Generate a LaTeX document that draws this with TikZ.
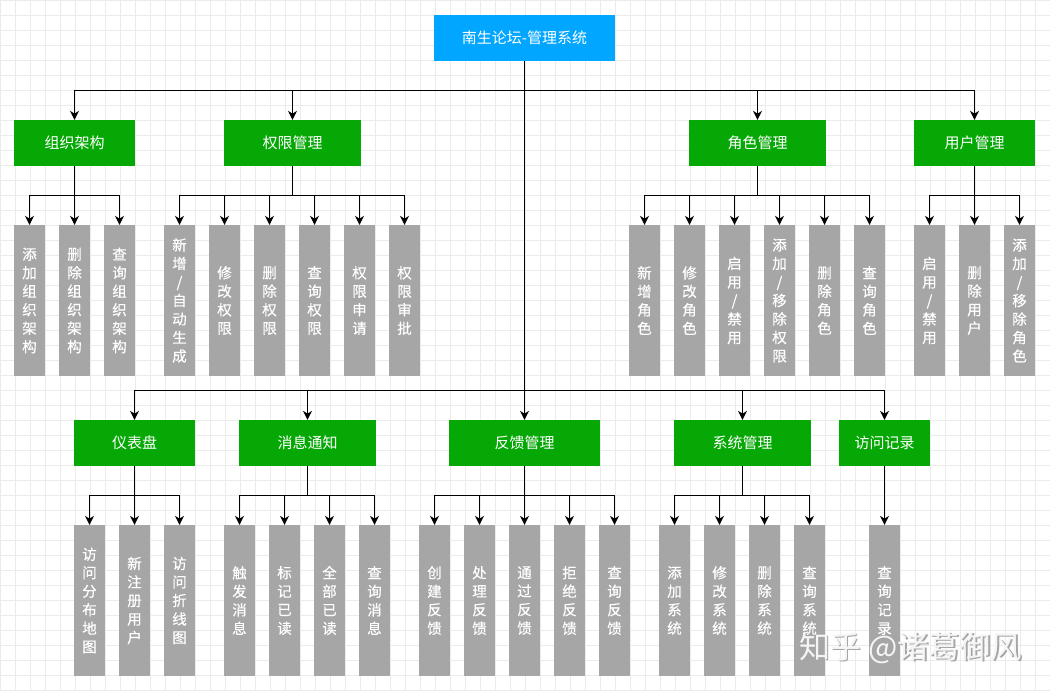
\documentclass[tikz,border=0pt]{standalone}
\usepackage{fontspec}
\setmainfont{Noto Sans CJK SC}
\newfontfamily\leaffont{Noto Sans CJK SC}[FakeBold=0.4]
\usetikzlibrary{arrows.meta}
\definecolor{rootblue}{HTML}{00A6FF}
\definecolor{groupgreen}{HTML}{05A805}
\definecolor{leafgray}{HTML}{A6A6A6}
\definecolor{gridgray}{HTML}{EBEBEB}
\tikzset{
  rootbox/.style={fill=rootblue,text=white,minimum width=181pt,minimum height=46pt,inner sep=0pt,font=\fontsize{15}{18}\selectfont},
  groupbox/.style={fill=groupgreen,text=white,minimum height=46pt,inner sep=0pt,font=\fontsize{15}{18}\selectfont},
  leafbox/.style={fill=leafgray,text=white,minimum width=31pt,minimum height=151pt,inner sep=0pt,text width=31pt,align=center,font=\leaffont\fontsize{14.5}{18.5}\selectfont},
  edge/.style={-{Stealth[length=9pt,width=9pt]},black,line width=1.1pt},
}
\begin{document}
\begin{tikzpicture}[x=1pt,y=-1pt]
\useasboundingbox (0,0) rectangle (1050,691);
\fill[white] (0,0) rectangle (1050,691);

% background grid
\draw [step=15pt,gridgray,line width=.5pt] (0,0) grid (1050,691);
\draw [step=60pt,gridgray,line width=1pt,xshift=-15pt] (0,0) grid (1065,691);

% root
\node[rootbox] (root) at (524.5,38){南生论坛-管理系统};

% upper groups
\node[groupbox,minimum width=121pt] (org) at (74.5,143){组织架构};
\node[groupbox,minimum width=137pt] (perm) at (292.5,143){权限管理};
\node[groupbox,minimum width=137pt] (role) at (757.5,143){角色管理};
\node[groupbox,minimum width=121pt] (user) at (974.5,143){用户管理};

% lower groups
\node[groupbox,minimum width=121pt] (board) at (134.5,443){仪表盘};
\node[groupbox,minimum width=137pt] (msg) at (307.5,443){消息通知};
\node[groupbox,minimum width=151pt] (fb) at (524.5,443){反馈管理};
\node[groupbox,minimum width=137pt] (sys) at (742.5,443){系统管理};
\node[groupbox,minimum width=91pt] (visit) at (884.5,443){访问记录};

% upper leaves
\node[leafbox] (orgA) at (29.5,300.5){添\\加\\组\\织\\架\\构};
\node[leafbox] (orgB) at (74.5,300.5){删\\除\\组\\织\\架\\构};
\node[leafbox] (orgC) at (119.5,300.5){查\\询\\组\\织\\架\\构};

\node[leafbox] (permA) at (179.5,300.5){新\\增\\/\\自\\动\\生\\成};
\node[leafbox] (permB) at (224.5,300.5){修\\改\\权\\限};
\node[leafbox] (permC) at (269.5,300.5){删\\除\\权\\限};
\node[leafbox] (permD) at (314.5,300.5){查\\询\\权\\限};
\node[leafbox] (permE) at (359.5,300.5){权\\限\\申\\请};
\node[leafbox] (permF) at (404.5,300.5){权\\限\\审\\批};

\node[leafbox] (roleA) at (644.5,300.5){新\\增\\角\\色};
\node[leafbox] (roleB) at (689.5,300.5){修\\改\\角\\色};
\node[leafbox] (roleC) at (734.5,300.5){启\\用\\/\\禁\\用};
\node[leafbox] (roleD) at (779.5,300.5){添\\加\\/\\移\\除\\权\\限};
\node[leafbox] (roleE) at (824.5,300.5){删\\除\\角\\色};
\node[leafbox] (roleF) at (869.5,300.5){查\\询\\角\\色};

\node[leafbox] (userA) at (929.5,300.5){启\\用\\/\\禁\\用};
\node[leafbox] (userB) at (974.5,300.5){删\\除\\用\\户};
\node[leafbox] (userC) at (1019.5,300.5){添\\加\\/\\移\\除\\角\\色};

% lower leaves
\node[leafbox] (boardA) at (89.5,600.5){访\\问\\分\\布\\地\\图};
\node[leafbox] (boardB) at (134.5,600.5){新\\注\\册\\用\\户};
\node[leafbox] (boardC) at (179.5,600.5){访\\问\\折\\线\\图};

\node[leafbox] (msgA) at (239.5,600.5){触\\发\\消\\息};
\node[leafbox] (msgB) at (284.5,600.5){标\\记\\已\\读};
\node[leafbox] (msgC) at (329.5,600.5){全\\部\\已\\读};
\node[leafbox] (msgD) at (374.5,600.5){查\\询\\消\\息};

\node[leafbox] (fbA) at (434.5,600.5){创\\建\\反\\馈};
\node[leafbox] (fbB) at (479.5,600.5){处\\理\\反\\馈};
\node[leafbox] (fbC) at (524.5,600.5){通\\过\\反\\馈};
\node[leafbox] (fbD) at (569.5,600.5){拒\\绝\\反\\馈};
\node[leafbox] (fbE) at (614.5,600.5){查\\询\\反\\馈};

\node[leafbox] (sysA) at (674.5,600.5){添\\加\\系\\统};
\node[leafbox] (sysB) at (719.5,600.5){修\\改\\系\\统};
\node[leafbox] (sysC) at (764.5,600.5){删\\除\\系\\统};
\node[leafbox] (sysD) at (809.5,600.5){查\\询\\系\\统};

\node[leafbox] (visitA) at (884.5,600.5){查\\询\\记\\录};

% root to groups
\draw [edge] (root.south) -- ++(0,29.5) -| (org.north);
\draw [edge] (root.south) -- ++(0,29.5) -| (perm.north);
\draw [edge] (root.south) -- ++(0,29.5) -| (role.north);
\draw [edge] (root.south) -- ++(0,29.5) -| (user.north);
\draw [edge] (root.south) -- ++(0,329.5) -| (board.north);
\draw [edge] (root.south) -- ++(0,329.5) -| (msg.north);
\draw [edge] (root.south) -- (fb.north);
\draw [edge] (root.south) -- ++(0,329.5) -| (sys.north);
\draw [edge] (root.south) -- ++(0,329.5) -| (visit.north);

% groups to leaves
\draw [edge] (org.south) -- ++(0,29.5) -| (orgA.north);
\draw [edge] (org.south) -- (orgB.north);
\draw [edge] (org.south) -- ++(0,29.5) -| (orgC.north);

\draw [edge] (perm.south) -- ++(0,29.5) -| (permA.north);
\draw [edge] (perm.south) -- ++(0,29.5) -| (permB.north);
\draw [edge] (perm.south) -- ++(0,29.5) -| (permC.north);
\draw [edge] (perm.south) -- ++(0,29.5) -| (permD.north);
\draw [edge] (perm.south) -- ++(0,29.5) -| (permE.north);
\draw [edge] (perm.south) -- ++(0,29.5) -| (permF.north);

\draw [edge] (role.south) -- ++(0,29.5) -| (roleA.north);
\draw [edge] (role.south) -- ++(0,29.5) -| (roleB.north);
\draw [edge] (role.south) -- ++(0,29.5) -| (roleC.north);
\draw [edge] (role.south) -- ++(0,29.5) -| (roleD.north);
\draw [edge] (role.south) -- ++(0,29.5) -| (roleE.north);
\draw [edge] (role.south) -- ++(0,29.5) -| (roleF.north);

\draw [edge] (user.south) -- ++(0,29.5) -| (userA.north);
\draw [edge] (user.south) -- (userB.north);
\draw [edge] (user.south) -- ++(0,29.5) -| (userC.north);

\draw [edge] (board.south) -- ++(0,29.5) -| (boardA.north);
\draw [edge] (board.south) -- (boardB.north);
\draw [edge] (board.south) -- ++(0,29.5) -| (boardC.north);

\draw [edge] (msg.south) -- ++(0,29.5) -| (msgA.north);
\draw [edge] (msg.south) -- ++(0,29.5) -| (msgB.north);
\draw [edge] (msg.south) -- ++(0,29.5) -| (msgC.north);
\draw [edge] (msg.south) -- ++(0,29.5) -| (msgD.north);

\draw [edge] (fb.south) -- ++(0,29.5) -| (fbA.north);
\draw [edge] (fb.south) -- ++(0,29.5) -| (fbB.north);
\draw [edge] (fb.south) -- (fbC.north);
\draw [edge] (fb.south) -- ++(0,29.5) -| (fbD.north);
\draw [edge] (fb.south) -- ++(0,29.5) -| (fbE.north);

\draw [edge] (sys.south) -- ++(0,29.5) -| (sysA.north);
\draw [edge] (sys.south) -- ++(0,29.5) -| (sysB.north);
\draw [edge] (sys.south) -- ++(0,29.5) -| (sysC.north);
\draw [edge] (sys.south) -- ++(0,29.5) -| (sysD.north);

\draw [edge] (visit.south) -- (visitA.north);

% watermark
\node[text=gray!70,font=\fontsize{31}{34}\selectfont] (markback) at (912,649){知乎 @诸葛御风};
\node[text=white!92!gray,font=\fontsize{31}{34}\selectfont] (mark) at (910.5,648){知乎 @诸葛御风};

\end{tikzpicture}
\end{document}
